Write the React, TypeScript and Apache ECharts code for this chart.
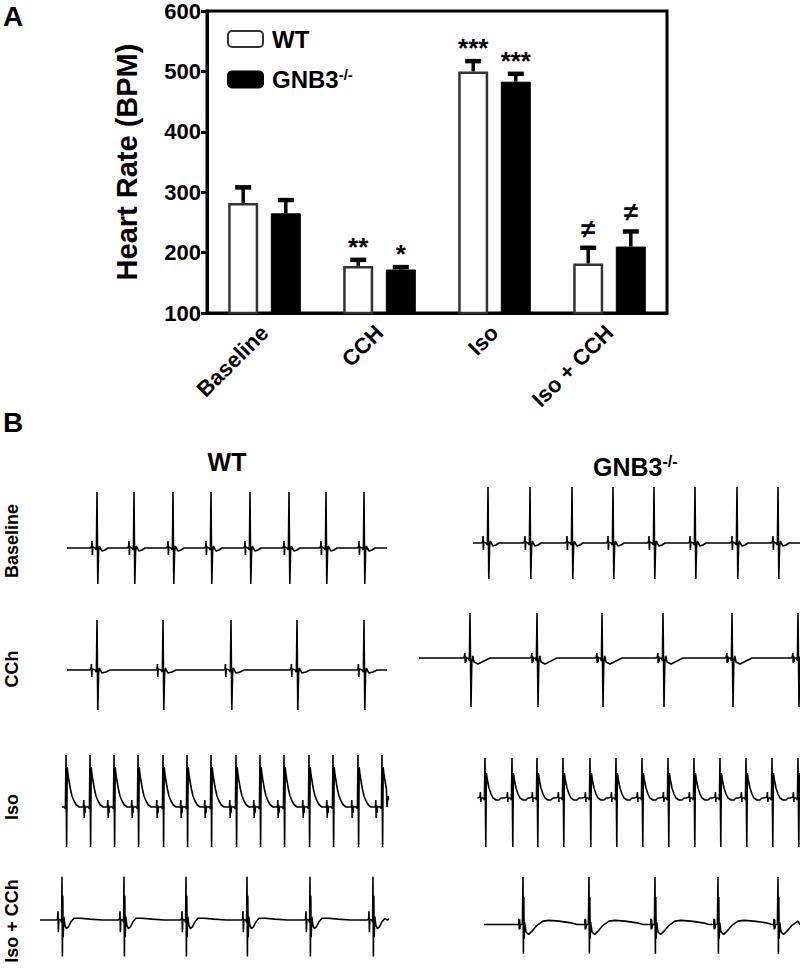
import React, { useEffect, useRef } from "react";
import * as echarts from "echarts";

// ---------- Panel A data ----------
const categories = ["Baseline", "CCH", "Iso", "Iso + CCH"];
const wtMean = [282, 178, 500, 182];
const wtSem = [26, 10, 17, 26];
const gnbMean = [265, 172, 483, 210];
const gnbSem = [22, 4, 13, 25];
const wtSig = ["", "**", "***", "≠"];
const gnbSig = ["", "*", "***", "≠"];
const yMin = 100;
const yMax = 600;
const yStep = 100;

// ---------- Panel B data (time in ms, amplitude in arbitrary units) ----------
// Beat waveform templates: [ms relative to R peak, amplitude]
const baselineBeat: [number, number][] = [
  [-35, 0], [-27, 1], [-25, 7], [-23, -7], [-21, 1], [-10, 0], [-3, -2],
  [0, 56], [4, -36], [8, -3], [12, 2], [16, 0], [25, -3], [40, -2], [55, 0],
];
const cchBeatWT: [number, number][] = [
  [-35, 0], [-30, 1], [-28, 6], [-26, -7], [-24, 1], [-10, 0], [-3, -2],
  [0, 50], [4, -40], [8, -3], [12, 2], [16, 0], [25, -3], [45, -2], [65, 0],
];
const cchBeatGNB: [number, number][] = [
  [-35, 0], [-28, 1], [-26, 5], [-24, -5], [-22, 2], [-20, -4], [-18, 0],
  [-8, 0], [-3, -3], [0, 45], [5, -49], [9, -4], [14, 2], [20, -4], [40, -6],
  [70, -3], [100, 0],
];
const isoBeatWT: [number, number][] = [
  [-45, 0], [-33, 0], [-31, 7], [-29, -11], [-27, 2], [-25, -6], [-23, 0],
  [-8, 0], [-3, -2], [0, 52], [3, -40], [6, 40], [9, 34], [15, 26], [22, 18],
  [30, 11], [40, 6], [52, 2], [65, 0],
];
const isoBeatGNB: [number, number][] = [
  [-38, 0], [-25, 1], [-23, 6], [-21, -4], [-19, 0], [-8, 0], [-3, -2],
  [0, 40], [4, -49], [7, 25], [12, 18], [20, 10], [30, 4], [40, 0], [55, -2],
  [70, -2], [80, 0],
];
const isoCchBeatWT: [number, number][] = [
  [-30, 0], [-22, 1], [-20, 10], [-18, -14], [-16, 1], [-6, 0], [-2, -3],
  [0, 50], [2, -42], [4, 28], [6, -20], [9, 4], [14, -6], [22, -10], [32, -8],
  [45, -2], [60, 2], [90, 2], [140, 1], [200, 0],
];
const isoCchBeatGNB: [number, number][] = [
  [-25, -3], [-21, -3], [-20, 4], [-19, -9], [-17, 3], [-15, -8], [-13, -3],
  [-3, -3], [0, 54], [2, -38], [4, 30], [6, -20], [8, 0], [15, -12], [28, -15],
  [45, -11], [70, -4], [100, 1], [130, 2], [180, 1], [240, -1], [270, -3],
];

// R-peak times (ms from start of each trace) and trace durations
const wtBaselineBeats = [150, 335, 530, 720, 915, 1110, 1295, 1485];
const gnbBaselineBeats = [75, 285, 495, 700, 905, 1110, 1320, 1525];
const wtCchBeats = [150, 480, 820, 1150, 1485];
const gnbCchBeats = [255, 590, 915, 1220, 1565, 1895];
const wtIsoBeats = [15, 135, 255, 375, 500, 620, 740, 865, 985, 1105, 1230, 1350, 1475, 1595];
const gnbIsoBeats = [35, 170, 295, 425, 560, 690, 820, 950, 1080, 1210, 1340, 1470, 1600];
const wtIsoCchBeats = [110, 420, 730, 1035, 1350, 1665];
const gnbIsoCchBeats = [195, 525, 855, 1170, 1470];

const traceDurations = [1600, 1635, 1600, 1905, 1620, 1610, 1735, 1580];

// ---------- layout (pixels) ----------
const MS_PER_PX = 5;
const traceLayout = [
  { left: 67, baseY: 548 },
  { left: 473, baseY: 543 },
  { left: 67, baseY: 670 },
  { left: 419, baseY: 658 },
  { left: 63, baseY: 807 },
  { left: 478, baseY: 798 },
  { left: 40, baseY: 928 },
  { left: 484, baseY: 932 },
];
const AMP_HALF = 60;

const FONT = "'Liberation Sans', Arial, Helvetica, sans-serif";

function buildTrace(beats: number[], tpl: [number, number][], dur: number) {
  const pts: [number, number][] = [[0, tpl[0][1]]];
  beats.forEach((b) => tpl.forEach(([dt, v]) => pts.push([b + dt, v])));
  pts.push([dur, tpl[tpl.length - 1][1]]);
  pts.sort((a, b) => a[0] - b[0]);
  return pts;
}

export default function App() {
  const ref = useRef<HTMLDivElement>(null);

  useEffect(() => {
    if (!ref.current) return;
    const chart = echarts.init(ref.current, null, { renderer: "svg" });

    const traces = [
      buildTrace(wtBaselineBeats, baselineBeat, traceDurations[0]),
      buildTrace(gnbBaselineBeats, baselineBeat, traceDurations[1]),
      buildTrace(wtCchBeats, cchBeatWT, traceDurations[2]),
      buildTrace(gnbCchBeats, cchBeatGNB, traceDurations[3]),
      buildTrace(wtIsoBeats, isoBeatWT, traceDurations[4]),
      buildTrace(gnbIsoBeats, isoBeatGNB, traceDurations[5]),
      buildTrace(wtIsoCchBeats, isoCchBeatWT, traceDurations[6]),
      buildTrace(gnbIsoCchBeats, isoCchBeatGNB, traceDurations[7]),
    ];

    const barWidth = 30;
    const barGapPct = 0.42;
    const half = (barWidth + barWidth * barGapPct) / 2;

    const grids: any[] = [
      { left: 207, top: 10, width: 460, height: 303, show: true, borderColor: "#000", borderWidth: 3 },
    ];
    const xAxes: any[] = [
      {
        type: "category",
        gridIndex: 0,
        data: categories,
        axisLine: { lineStyle: { color: "#000", width: 3 } },
        axisTick: { alignWithLabel: true, length: 7, lineStyle: { width: 3, color: "#000" } },
        axisLabel: {
          rotate: 45,
          margin: 16,
          color: "#000",
          fontSize: 22,
          fontWeight: "bold",
          fontFamily: FONT,
        },
      },
    ];
    const yAxes: any[] = [
      {
        type: "value",
        gridIndex: 0,
        min: yMin,
        max: yMax,
        interval: yStep,
        name: "Heart Rate (BPM)",
        nameLocation: "middle",
        nameGap: 66,
        nameTextStyle: { fontSize: 29, fontWeight: "bold", color: "#000", fontFamily: FONT },
        axisLine: { show: true, lineStyle: { color: "#000", width: 3 } },
        axisTick: { show: true, length: 6, lineStyle: { width: 3, color: "#000" } },
        splitLine: { show: false },
        axisLabel: { color: "#000", fontSize: 22, fontWeight: "bold", margin: 6, fontFamily: FONT },
      },
    ];

    const errSeries = (means: number[], sems: number[], sigs: string[], dir: number, name: string) => ({
      type: "custom",
      name,
      xAxisIndex: 0,
      yAxisIndex: 0,
      z: 5,
      silent: true,
      encode: { x: 0, y: 1 },
      data: categories.map((_, i) => [i, means[i], sems[i]]),
      renderItem: (params: any, api: any) => {
        const i = api.value(0);
        const m = api.value(1);
        const e = api.value(2);
        const base = api.coord([i, m]);
        const top = api.coord([i, m + e]);
        const x = base[0] + dir * half;
        const sig = sigs[params.dataIndex];
        const children: any[] = [
          { type: "line", shape: { x1: x, y1: base[1], x2: x, y2: top[1] }, style: { stroke: "#000", lineWidth: 3.5 } },
          { type: "line", shape: { x1: x - 8, y1: top[1], x2: x + 8, y2: top[1] }, style: { stroke: "#000", lineWidth: 4.5 } },
        ];
        if (sig) {
          const isStar = sig.indexOf("*") >= 0;
          children.push({
            type: "text",
            x,
            y: top[1] - (isStar ? 0 : 6),
            style: {
              text: sig,
              fontSize: isStar ? 26 : 26,
              fontWeight: "bold",
              fontFamily: FONT,
              fill: "#000",
              align: "center",
              verticalAlign: "bottom",
            },
          });
        }
        return { type: "group", children };
      },
    });

    const series: any[] = [
      {
        type: "bar",
        name: "WT",
        xAxisIndex: 0,
        yAxisIndex: 0,
        data: wtMean,
        barWidth,
        barGap: `${barGapPct * 100}%`,
        itemStyle: { color: "#fff", borderColor: "#333", borderWidth: 2.5 },
      },
      {
        type: "bar",
        name: "GNB3-/-",
        xAxisIndex: 0,
        yAxisIndex: 0,
        data: gnbMean,
        barWidth,
        barGap: `${barGapPct * 100}%`,
        itemStyle: { color: "#000", borderColor: "#000", borderWidth: 1 },
      },
      errSeries(wtMean, wtSem, wtSig, -1, "wtErr"),
      errSeries(gnbMean, gnbSem, gnbSig, 1, "gnbErr"),
    ];

    traces.forEach((pts, k) => {
      const lay = traceLayout[k];
      const dur = traceDurations[k];
      grids.push({
        left: lay.left,
        top: lay.baseY - AMP_HALF,
        width: dur / MS_PER_PX,
        height: AMP_HALF * 2,
        show: false,
      });
      xAxes.push({ type: "value", gridIndex: k + 1, min: 0, max: dur, show: false });
      yAxes.push({ type: "value", gridIndex: k + 1, min: -AMP_HALF, max: AMP_HALF, show: false });
      series.push({
        type: "line",
        xAxisIndex: k + 1,
        yAxisIndex: k + 1,
        data: pts,
        showSymbol: false,
        symbol: "none",
        clip: true,
        silent: true,
        lineStyle: { color: "#000", width: 1.6 },
      });
    });

    const boldText = (text: string, x: number, y: number, fontSize: number, extra: any = {}) => ({
      type: "text",
      x,
      y,
      ...extra,
      style: {
        text,
        fontSize,
        fontWeight: "bold",
        fontFamily: FONT,
        fill: "#000",
        align: "center",
        verticalAlign: "middle",
        ...(extra.style || {}),
      },
    });

    const option: any = {
      animation: false,
      backgroundColor: "#fff",
      grid: grids,
      xAxis: xAxes,
      yAxis: yAxes,
      legend: {
        data: ["WT", "GNB3-/-"],
        orient: "vertical",
        left: 222,
        top: 22,
        itemWidth: 35,
        itemHeight: 16,
        itemGap: 16,
        selectedMode: false,
        formatter: (name: string) => (name === "WT" ? "{b|WT}" : "{b|GNB3}{s|-/-}"),
        textStyle: {
          rich: {
            b: { fontSize: 24, fontWeight: "bold", fontFamily: FONT, color: "#000", padding: [0, 0, 0, 4] },
            s: { fontSize: 15, fontWeight: "bold", fontFamily: FONT, color: "#000", verticalAlign: "top", padding: [0, 0, 10, 0] },
          },
        },
      },
      graphic: [
        boldText("A", 13, 16, 28),
        boldText("B", 13, 422, 28),
        boldText("WT", 227, 462, 25),
        {
          type: "text",
          x: 593,
          y: 467,
          style: {
            text: "{b|GNB3}{s|-/-}",
            fill: "#000",
            verticalAlign: "middle",
            rich: {
              b: { fontSize: 25, fontWeight: "bold", fontFamily: FONT, fill: "#000" },
              s: { fontSize: 16, fontWeight: "bold", fontFamily: FONT, fill: "#000", verticalAlign: "top", padding: [0, 0, 12, 0] },
            },
          },
        },
        boldText("Baseline", 12, 541, 18, { rotation: Math.PI / 2 }),
        boldText("CCh", 12, 669, 18, { rotation: Math.PI / 2 }),
        boldText("Iso", 12, 807, 18, { rotation: Math.PI / 2 }),
        boldText("Iso + CCh", 12, 921, 18, { rotation: Math.PI / 2 }),
      ],
      series,
    };

    chart.setOption(option);
    return () => chart.dispose();
  }, []);

  return (
    <div
      ref={ref}
      style={{ position: "fixed", left: 0, top: 0, width: 800, height: 972, background: "#fff" }}
    />
  );
}
